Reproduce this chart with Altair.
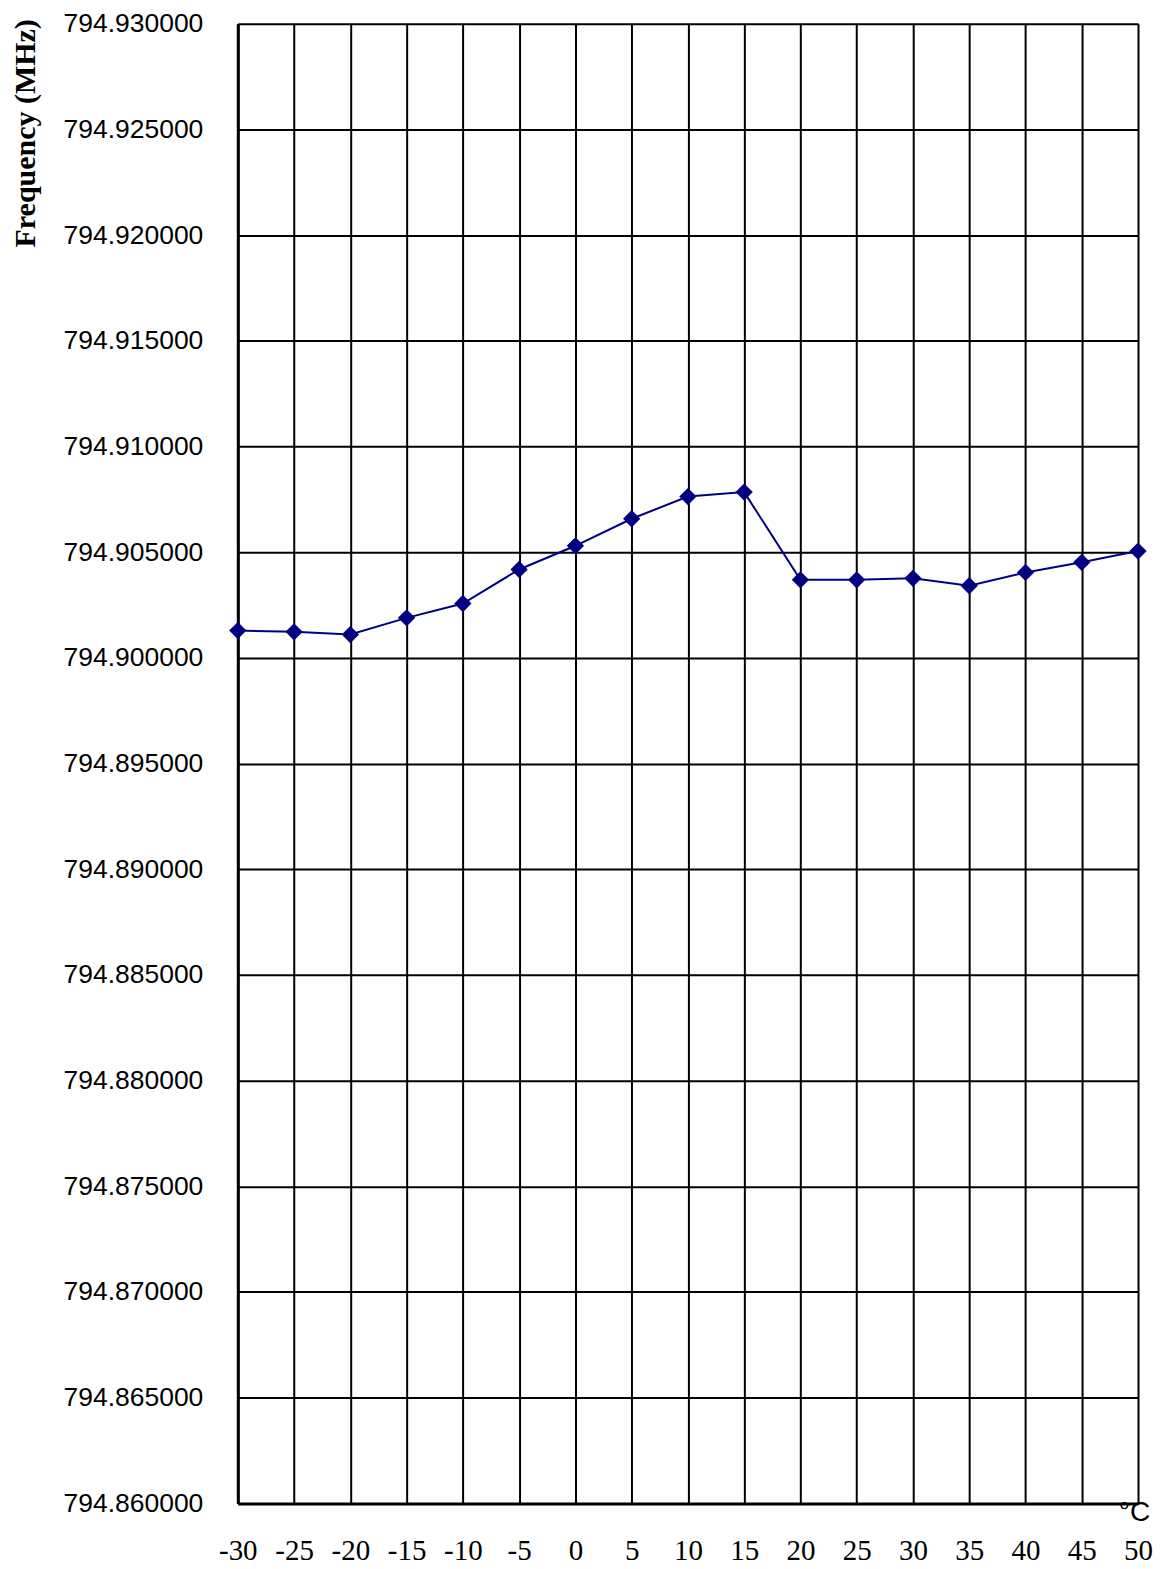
import altair as alt
import pandas as pd

temps = [-30, -25, -20, -15, -10, -5, 0, 5, 10, 15, 20, 25, 30, 35, 40, 45, 50]
freqs = [794.90129, 794.90123, 794.90110, 794.90189, 794.90257, 794.90418,
         794.90530, 794.90658, 794.90763, 794.90784, 794.90369, 794.90369,
         794.90376, 794.90341, 794.90404, 794.90452, 794.90505]
x_ticks = list(range(-30, 51, 5))
y_ticks = [round(794.86 + 0.005 * i, 3) for i in range(15)]

df = pd.DataFrame({"t": temps, "f": freqs})

x = alt.X("t:Q", scale=alt.Scale(domain=[-30, 50], nice=False, zero=False),
          axis=alt.Axis(values=x_ticks, title="°C", labelFlush=False,
                        labelExpr="'' + datum.value",
                        labelFont="Liberation Serif", labelFontSize=29,
                        labelPadding=33, ticks=False, domainWidth=3,
                        domainColor="black", gridColor="black", gridWidth=2,
                        gridOpacity=1, labelColor="black",
                        titleFont="Liberation Sans",
                        titleFontSize=28, titleFontWeight="normal",
                        titleX=897, titleY=9, titleAlign="center",
                        titleBaseline="middle", titleColor="black"))
y = alt.Y("f:Q", scale=alt.Scale(domain=[794.86, 794.93], nice=False, zero=False),
          axis=alt.Axis(values=y_ticks, format=".6f", title="Frequency (MHz)",
                        labelFont="Liberation Sans",
                        labelFontSize=26.5, labelPadding=35, ticks=False,
                        domainWidth=3, domainColor="black", gridColor="black",
                        gridWidth=2, gridOpacity=1, labelColor="black",
                        titleFont="Liberation Serif", titleFontSize=30,
                        titleFontWeight="bold", titleAngle=-90,
                        titleX=-212, titleY=-5, titleAlign="right",
                        titleBaseline="middle", titleColor="black"))

base = alt.Chart(df)
line = base.mark_line(color="#000080", strokeWidth=2).encode(x=x, y=y)
pts = base.mark_point(shape="diamond", filled=True, color="#000080", size=300,
                      opacity=1).encode(x=x, y=y)

chart = alt.layer(line, pts).properties(
    width=901, height=1481, padding={"left": 2, "top": 2, "right": 5, "bottom": 0}
).configure_view(stroke="black", strokeWidth=2).configure(background="white")

chart.save("out.html", embed_options={"renderer": "svg", "actions": False})
